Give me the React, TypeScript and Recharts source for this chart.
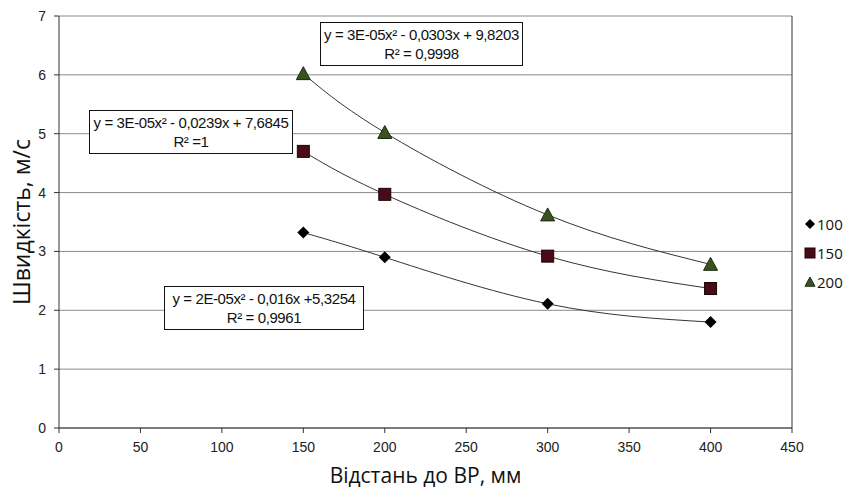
import { ComposedChart, Line, XAxis, YAxis, CartesianGrid, ReferenceLine } from 'recharts';

const xTicks = [0, 50, 100, 150, 200, 250, 300, 350, 400, 450];
const yTicks = [0, 1, 2, 3, 4, 5, 6, 7];

const distances = [150, 200, 300, 400];
const speed100 = [3.32, 2.9, 2.11, 1.8];
const speed150 = [4.7, 3.97, 2.92, 2.37];
const speed200 = [6.02, 5.02, 3.62, 2.78];

const seriesNames = ['100', '150', '200'];
const equations = [
  { top: 286, left: 164, width: 200, eq: 'y = 2E-05x² - 0,016x +5,3254', r2: 'R² = 0,9961' },
  { top: 110, left: 89, width: 204, eq: 'y = 3E-05x² - 0,0239x + 7,6845', r2: 'R² =1' },
  { top: 22, left: 320, width: 203, eq: 'y = 3E-05x² - 0,0303x + 9,8203', r2: 'R² = 0,9998' },
];

const toRows = (vals: number[]) => distances.map((x, i) => ({ x, v: vals[i] }));

const GREEN = '#3b5220';
const MAROON = '#4a0a18';

function Diamond({ cx, cy, size = 6 }: any) {
  if (cx == null || cy == null) return null;
  const r = size;
  return <polygon points={`${cx},${cy - r} ${cx + r},${cy} ${cx},${cy + r} ${cx - r},${cy}`} fill="#000" />;
}
function Square({ cx, cy, size = 6 }: any) {
  if (cx == null || cy == null) return null;
  const r = size;
  return <rect x={cx - r} y={cy - r} width={r * 2} height={r * 2} fill={MAROON} stroke="#1a0508" strokeWidth={1} />;
}
function Triangle({ cx, cy, size = 7 }: any) {
  if (cx == null || cy == null) return null;
  const r = size;
  return (
    <polygon
      points={`${cx},${cy - r} ${cx + r},${cy + r * 0.85} ${cx - r},${cy + r * 0.85}`}
      fill={GREEN}
      stroke="#1c2a10"
      strokeWidth={1}
    />
  );
}

const markers = [Diamond, Square, Triangle];

// legend sits outside the plot, right side
function LegendBox() {
  return (
    <div
      style={{
        position: 'absolute',
        left: 804,
        top: 209,
        fontFamily: '"Open Sans", sans-serif',
        fontSize: 15,
        color: '#111',
      }}
    >
      {seriesNames.map((n, i) => {
        const M = markers[i];
        return (
          <div key={n} style={{ display: 'flex', alignItems: 'center', height: 29 }}>
            <svg width={12} height={12} style={{ marginRight: 1 }}>
              <M cx={6} cy={6} size={5} />
            </svg>
            <span>{n}</span>
          </div>
        );
      })}
    </div>
  );
}

export default function App() {
  const tickStyle = { fontFamily: '"Liberation Sans", Arial, sans-serif', fontSize: 14, fill: '#222' };
  return (
    <div style={{ position: 'absolute', left: 0, top: 0, width: 849, height: 495, background: '#fff' }}>
      <ComposedChart width={849} height={495} margin={{ top: 16, right: 57, left: 0, bottom: 0 }}>
        <CartesianGrid horizontal vertical={false} stroke="#8a8a8a" />
        <XAxis
          type="number"
          dataKey="x"
          domain={[0, 450]}
          ticks={xTicks}
          allowDuplicatedCategory={false}
          height={67}
          stroke="#333"
          tickSize={5}
          tickMargin={9}
          tick={tickStyle}
          label={{
            value: 'Відстань до ВР, мм',
            position: 'insideBottom',
            offset: 12,
            style: { fontFamily: '"Open Sans", sans-serif', fontSize: 21, fill: '#111' },
          }}
        />
        <YAxis
          type="number"
          domain={[0, 7]}
          ticks={yTicks}
          width={59}
          stroke="#333"
          tickSize={5}
          tickMargin={8}
          tick={tickStyle}
          label={{
            value: 'Швидкість, м/с',
            angle: -90,
            position: 'insideLeft',
            offset: 22,
            style: { textAnchor: 'middle', fontFamily: '"Open Sans", sans-serif', fontSize: 23, fill: '#111' },
          }}
        />
        <ReferenceLine x={450} stroke="#333" />
        <Line data={toRows(speed100)} dataKey="v" type="natural" stroke="#333" strokeWidth={1} dot={<Diamond />} activeDot={false} isAnimationActive={false} />
        <Line data={toRows(speed150)} dataKey="v" type="natural" stroke="#333" strokeWidth={1} dot={<Square />} activeDot={false} isAnimationActive={false} />
        <Line data={toRows(speed200)} dataKey="v" type="natural" stroke="#333" strokeWidth={1} dot={<Triangle />} activeDot={false} isAnimationActive={false} />
      </ComposedChart>
      <LegendBox />
      {equations.map((e) => (
        <div
          key={e.eq}
          style={{
            position: 'absolute',
            left: e.left,
            top: e.top,
            width: e.width,
            height: 44,
            boxSizing: 'border-box',
            border: '1.5px solid #111',
            background: '#fff',
            fontFamily: '"Liberation Sans", Arial, sans-serif',
            fontSize: 15,
            lineHeight: '19px',
            color: '#111',
            textAlign: 'center',
            paddingTop: 2,
            whiteSpace: 'nowrap',
            letterSpacing: -0.4,
          }}
        >
          <div>{e.eq}</div>
          <div>{e.r2}</div>
        </div>
      ))}
    </div>
  );
}
